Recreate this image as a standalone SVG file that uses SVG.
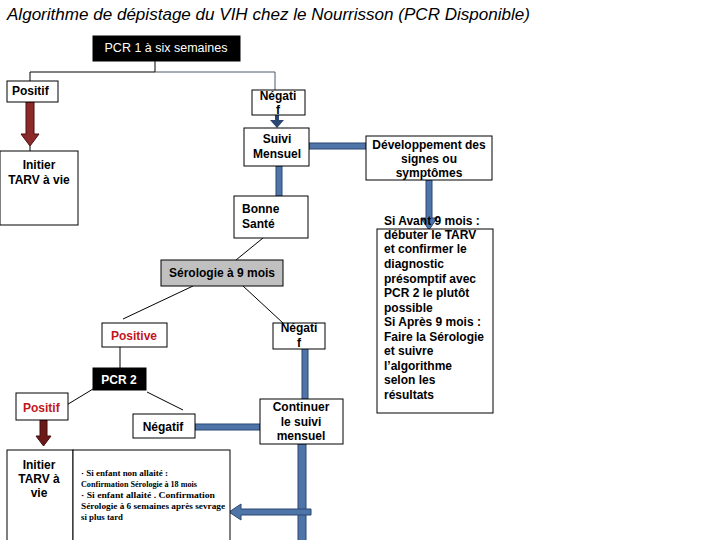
<svg xmlns="http://www.w3.org/2000/svg" width="720" height="540" viewBox="0 0 720 540">
<defs>
<style>
text{font-family:"Liberation Sans",Arial,sans-serif;font-size:12px;font-weight:bold;fill:#000}
.box{fill:#fff;stroke:#000;stroke-width:1}
.blk{fill:#000;stroke:#000}
.thin{stroke:#000;stroke-width:1;fill:none}
.blue{fill:#4f74a8;stroke:#2b4672;stroke-width:1}
.red{fill:#8b2a2a;stroke:#4a0c0c;stroke-width:1}
.c{text-anchor:middle}
.w{fill:#fff}
.r{fill:#c0161c}
.tiny{font-family:"Liberation Serif","Times New Roman",serif;font-size:8.5px;font-weight:bold}
</style>
</defs>
<rect width="720" height="540" fill="#fff"/>
<text x="7" y="20" style="font-size:16px;font-weight:normal;font-style:italic" textLength="523" lengthAdjust="spacingAndGlyphs">Algorithme de dépistage du VIH chez le Nourrisson (PCR Disponible)</text>

<g id="connectors">
<polyline class="thin" points="155,61 155,72 30,72 30,92"/>
<polyline class="thin" points="155,72 275,72 275,90" style="stroke:#4a5a70"/>
<path class="red" d="M26,102 H34 V134 H39 L30,146 L21,134 H26 Z"/>
<line class="thin" x1="30" y1="146" x2="30" y2="151"/>
<path d="M275,112 H279 V120 H284 L277,128 L270,120 H275 Z" fill="#2b4672"/>
<rect class="blue" x="309" y="143" width="57" height="6"/>
<rect class="blue" x="276" y="166" width="6" height="30"/>
<path class="blue" d="M426,180 H432 V218 H437 L429,230 L421,218 H426 Z"/>
<line class="thin" x1="263" y1="238" x2="236" y2="260"/>
<line class="thin" x1="193" y1="286" x2="123" y2="319"/>
<line class="thin" x1="243" y1="286" x2="283" y2="323"/>
<line class="thin" x1="120" y1="347" x2="120" y2="371"/>
<line class="thin" x1="93" y1="389" x2="60" y2="409"/>
<line class="thin" x1="147" y1="392" x2="183" y2="410"/>
<rect class="blue" x="302" y="342" width="6" height="57"/>
<rect class="blue" x="195" y="424" width="65" height="6"/>
<rect class="blue" x="298" y="444" width="8" height="100"/>
<path class="blue" d="M311,509 H241 V504 L229,512 L241,520 V515 H311 Z"/>
<path class="red" style="fill:#6b1a1a" d="M40,420 H47 V436 H51 L43.5,446 L36,436 H40 Z"/>
</g>

<g id="pcr1">
<rect class="blk" x="93" y="36" width="147" height="25"/>
<text class="c w" x="166" y="52" style="font-weight:normal;font-size:12.5px">PCR 1 à six semaines</text>
</g>
<g id="positif1">
<rect class="box" x="7" y="81" width="51" height="21"/>
<text x="12" y="95">Positif</text>
</g>
<g id="negatif1">
<rect class="box" x="252" y="90" width="53" height="25"/>
<text class="c" x="278" y="100">Négati</text>
<text class="c" x="278" y="114">f</text>
</g>
<g id="initier1">
<rect class="box" x="0" y="151" width="78" height="74"/>
<text class="c" x="39" y="169">Initier</text>
<text class="c" x="39" y="184">TARV à vie</text>
</g>
<g id="suivi">
<rect class="box" x="244" y="128" width="65" height="38"/>
<text class="c" x="277" y="143">Suivi</text>
<text class="c" x="277" y="158">Mensuel</text>
</g>
<g id="developpement">
<rect class="box" x="366" y="136" width="126" height="44"/>
<text class="c" x="429" y="149">Développement des</text>
<text class="c" x="429" y="163">signes ou</text>
<text class="c" x="429" y="177">symptômes</text>
</g>
<g id="bonne">
<rect class="box" x="234" y="196" width="74" height="42"/>
<text x="242" y="213">Bonne</text>
<text x="242" y="228">Santé</text>
</g>
<g id="consignes">
<rect class="box" x="377" y="229" width="116" height="184"/>
<text x="384" y="225">Si Avant 9 mois :</text>
<text x="384" y="239">débuter le TARV</text>
<text x="384" y="253">et confirmer le</text>
<text x="384" y="268">diagnostic</text>
<text x="384" y="283">présomptif avec</text>
<text x="384" y="297">PCR 2 le plutôt</text>
<text x="384" y="312">possible</text>
<text x="384" y="326">Si Après 9 mois :</text>
<text x="384" y="341">Faire la Sérologie</text>
<text x="384" y="355">et suivre</text>
<text x="384" y="370">l’algorithme</text>
<text x="384" y="384">selon les</text>
<text x="384" y="399">résultats</text>
</g>
<g id="serologie">
<rect x="161" y="260" width="122" height="26" fill="#c0c0c0" stroke="#000"/>
<text class="c" x="222" y="277">Sérologie à 9 mois</text>
</g>
<g id="positive">
<rect class="box" x="102" y="323" width="65" height="24"/>
<text class="c r" x="134" y="340">Positive</text>
</g>
<g id="negatif2">
<rect class="box" x="273" y="323" width="52" height="26"/>
<text class="c" x="299" y="332">Négati</text>
<text class="c" x="299" y="347">f</text>
</g>
<g id="pcr2">
<rect class="blk" x="93" y="368" width="53" height="22"/>
<text class="c w" x="119" y="384">PCR 2</text>
</g>
<g id="positif2">
<rect class="box" x="16" y="393" width="52" height="27"/>
<text class="r" x="23" y="412">Positif</text>
</g>
<g id="negatif3">
<rect class="box" x="133" y="414" width="62" height="24"/>
<text class="c" x="163" y="431">Négatif</text>
</g>
<g id="continuer">
<rect class="box" x="260" y="399" width="83" height="45"/>
<text class="c" x="301" y="411">Continuer</text>
<text class="c" x="301" y="426">le suivi</text>
<text class="c" x="301" y="440">mensuel</text>
</g>
<g id="initier2">
<rect class="box" x="7" y="450" width="66" height="95"/>
<text class="c" x="39" y="469">Initier</text>
<text class="c" x="39" y="483">TARV à</text>
<text class="c" x="39" y="497">vie</text>
</g>
<g id="confirmation">
<rect class="box" x="73" y="450" width="157" height="95"/>
<text class="tiny" x="81" y="476" textLength="87" lengthAdjust="spacingAndGlyphs">· Si enfant non allaité :</text>
<text class="tiny" x="81" y="487" textLength="116" lengthAdjust="spacingAndGlyphs">Confirmation Sérologie à 18 mois</text>
<text class="tiny" x="81" y="498" textLength="134" lengthAdjust="spacingAndGlyphs">· Si enfant allaité . Confirmation</text>
<text class="tiny" x="81" y="509" textLength="144" lengthAdjust="spacingAndGlyphs">Sérologie à 6 semaines après sevrage</text>
<text class="tiny" x="81" y="520" textLength="42" lengthAdjust="spacingAndGlyphs">si plus tard</text>
</g>
</svg>
